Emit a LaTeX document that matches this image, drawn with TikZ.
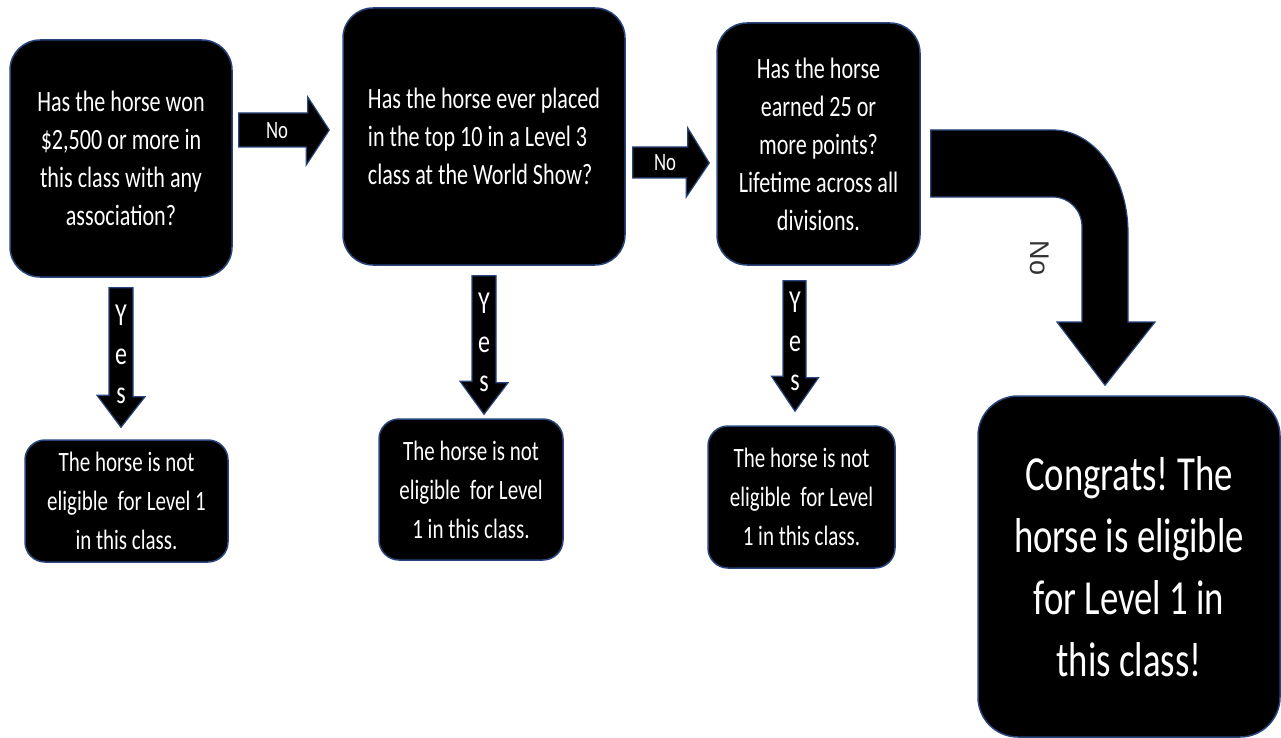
\documentclass[tikz,border=0pt]{standalone}
\usepackage{fontspec}
\setmainfont{Carlito}[FakeStretch=0.75]
\newfontfamily\sidefont{Liberation Sans}
\frenchspacing

\definecolor{boxedge}{RGB}{40,70,125}

\tikzset{
  every box/.style={rectangle, fill=black, draw=boxedge, line width=1.5pt,
    text=white, align=center, inner sep=0pt},
  question/.style={every box, rounded corners=30pt,
    font=\fontsize{29.5}{38}\selectfont},
  answer/.style={every box, rounded corners=20pt,
    font=\fontsize{28}{39}\selectfont},
  congrats/.style={every box, rounded corners=40pt,
    font=\fontsize{49}{62}\selectfont},
  block arrow/.style={fill=black, draw=boxedge, line width=1.2pt},
  arrow label/.style={text=white, font=\fontsize{25}{25}\selectfont},
  yes label/.style={text=white, align=center, inner sep=0pt,
    font=\fontsize{32}{39}\selectfont},
}

\begin{document}
\begin{tikzpicture}[x=1pt, y=-1pt]

\useasboundingbox (0,0) rectangle (1281,738);

% questions
\node [question, minimum width=222pt, minimum height=237pt] (q1) at (121,158.5)
  {Has the horse won\\\$2,500 or more in\\this class with any\\association?};
\node [question, align=left, minimum width=282pt, minimum height=257pt] (q2) at (484,136.5)
  {Has the horse ever placed\\in the top 10 in a Level 3\\class at the World Show?};
\node [question, minimum width=203pt, minimum height=242pt] (q3) at (818.5,144)
  {Has the horse\\earned 25 or\\more points?\\Lifetime across all\\divisions.};

% answers
\node [answer, minimum width=203pt, minimum height=122pt] (r1) at (126.5,501)
  {The horse is not\\eligible\ \ for Level 1\\in this class.};
\node [answer, minimum width=184pt, minimum height=141pt] (r2) at (471,489.5)
  {The horse is not\\eligible\ \ for Level\\1 in this class.};
\node [answer, minimum width=187pt, minimum height=142pt] (r3) at (801.5,497)
  {The horse is not\\eligible\ \ for Level\\1 in this class.};
\node [congrats, minimum width=302pt, minimum height=341pt] (fin) at (1129,566.5)
  {Congrats! The\\horse is eligible\\for Level 1 in\\this class!};

% no arrows
\draw [block arrow] ([xshift=6pt]q1.east |- 0,113) -- ++(69,0) -- ++(0,-16)
  -- ([xshift=-13pt]q2.west |- 0,130) -- ++(-23,35) -- ++(0,-18)
  -- ([xshift=6pt]q1.east |- 0,147) -- cycle;
\draw [block arrow] ([xshift=7pt]q2.east |- 0,147) -- ++(55,0) -- ++(0,-19)
  -- ([xshift=-7pt]q3.west |- 0,163) -- ++(-23,34) -- ++(0,-19)
  -- ([xshift=7pt]q2.east |- 0,178) -- cycle;
\draw [block arrow] ([xshift=10pt]q3.east |- 0,130) -- (1053,130)
  .. controls (1094,130) and (1128,176) .. (1128,233) -- (1128,322) -- (1155,322)
  -- ([xshift=-24pt,yshift=10pt]fin.north) -- (1057,322) -- (1082,322) -- (1082,227)
  .. controls (1082,210) and (1069,197) .. (1053,197)
  -- ([xshift=10pt]q3.east |- 0,197) -- cycle;

% yes arrows
\draw [block arrow] ([xshift=-12pt,yshift=-10pt]q1.south) -- ++(24,0) -- ++(0,109)
  -- ++(12,0) -- ([yshift=12pt]q1.south |- r1.north) -- ++(-24,-32) -- ++(12,0) -- cycle;
\draw [block arrow] ([xshift=-12pt,yshift=-10pt]q2.south) -- ++(24,0) -- ++(0,107)
  -- ++(12,0) -- ([yshift=4pt]q2.south |- r2.north) -- ++(-24,-33) -- ++(12,0) -- cycle;
\draw [block arrow] ([xshift=-35.5pt,yshift=-15pt]q3.south) -- ++(23,0) -- ++(0,97)
  -- ++(12.5,0) -- ([xshift=-23.5pt,yshift=14pt]q3.south |- r3.north) -- ++(-23.5,-35)
  -- ++(11.5,0) -- cycle;

% labels
\node [arrow label] (no1) at (277,131) {No};
\node [arrow label] (no2) at (665,163) {No};
\node [rotate=-90, text=black!80, font=\sidefont\fontsize{27}{27}\selectfont] (no3) at (1040,258) {No};

\foreach \n/\x/\y in {yes1/121/354, yes2/484/342, yes3/795/341}
  \node [yes label] (\n) at (\x,\y) {Y\\e\\s};

\end{tikzpicture}
\end{document}
